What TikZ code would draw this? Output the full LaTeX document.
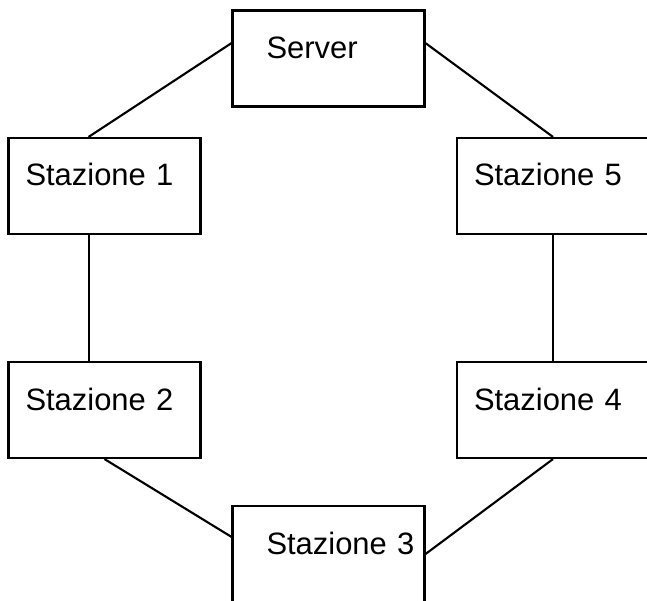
\documentclass[tikz,border=0pt]{standalone}
\usepackage{fontspec}
\setmainfont{Liberation Sans}
\tikzset{
  stationbox/.style={draw, line width=1.2pt, minimum width=3.84cm, minimum height=1.92cm,
    text width=3.16cm, inner xsep=0.34cm, align=left, text height=0pt, text depth=0pt,
    font=\fontsize{17.6pt}{21pt}\selectfont},
  widebox/.style={stationbox, text width=2.48cm, inner xsep=0.68cm},
  link/.style={line width=1.2pt}
}
\begin{document}
\begin{tikzpicture}
\useasboundingbox (0,0) rectangle (12.94,-12.02);
\node[widebox] (srv) at (6.57,-1.17) {Server};
\node[stationbox] (st1) at (2.09,-3.72) {Stazione 1};
\node[stationbox] (st5) at (11.06,-3.72) {Stazione 5};
\node[stationbox] (st2) at (2.09,-8.20) {Stazione 2};
\node[stationbox] (st4) at (11.06,-8.20) {Stazione 4};
\node[widebox] (st3) at (6.57,-11.08) {Stazione~3};
\draw[link] (srv.171) -- (st1.108);
\draw[link] (srv.9) -- (st5.north);
\draw[link] (st1.252) -- (st2.108);
\draw[link] (st5.south) -- (st4.north);
\draw[link] (st2.south) -- (st3.170);
\draw[link] (st4.south) -- (st3.east);
\end{tikzpicture}
\end{document}
